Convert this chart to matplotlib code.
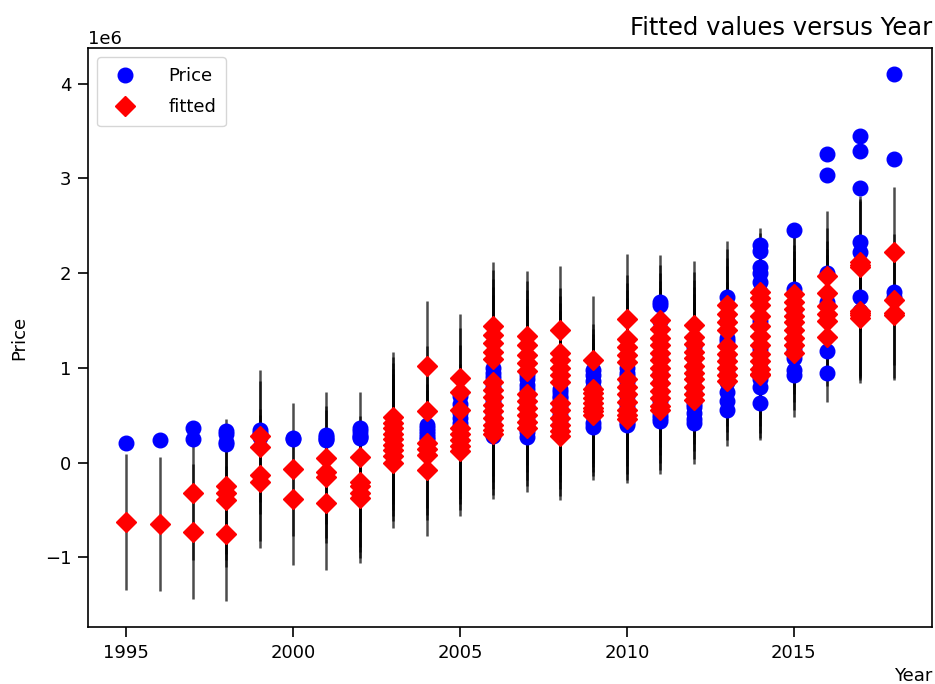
import numpy as np
import matplotlib
matplotlib.use("Agg")
import matplotlib.pyplot as plt

# values, in units of 1e6
years = list(range(1995, 2019))

price_by_year = [
    [0.21],
    [0.24],
    [0.37, 0.25],
    [0.33, 0.30, 0.22, 0.20],
    [0.34, 0.31, 0.29, 0.27],
    [0.26, 0.25],
    [0.29, 0.27, 0.25, 0.24],
    [0.37, 0.33, 0.29, 0.27, 0.26],
    [0.42, 0.38, 0.35, 0.32, 0.30, 0.28, 0.26, 0.25, 0.24],
    [0.40, 0.36, 0.33, 0.30, 0.27, 0.25],
    [0.70, 0.62, 0.52, 0.47, 0.42, 0.38, 0.30, 0.25],
    [1.00, 0.95, 0.90, 0.80, 0.70, 0.65, 0.60, 0.55, 0.50, 0.45, 0.40, 0.35, 0.30, 0.28],
    [0.92, 0.88, 0.82, 0.78, 0.70, 0.60, 0.50, 0.45, 0.40, 0.32, 0.27],
    [0.78, 0.74, 0.70, 0.68, 0.60, 0.55, 0.50, 0.45, 0.40, 0.38, 0.35, 0.30],
    [0.98, 0.92, 0.86, 0.80, 0.60, 0.50, 0.42, 0.38],
    [1.00, 0.95, 0.91, 0.85, 0.80, 0.70, 0.65, 0.60, 0.50, 0.45, 0.42, 0.40],
    [1.70, 1.66, 1.50, 1.30, 1.10, 0.95, 0.85, 0.75, 0.65, 0.55, 0.50, 0.47, 0.44],
    [1.22, 1.10, 1.00, 0.90, 0.80, 0.75, 0.62, 0.59, 0.52, 0.46, 0.42],
    [1.75, 1.50, 1.32, 1.28, 1.10, 0.95, 0.85, 0.74, 0.65, 0.56],
    [2.30, 2.23, 2.07, 2.00, 1.91, 1.80, 1.50, 1.20, 1.00, 0.88, 0.80, 0.63],
    [2.46, 1.83, 1.60, 1.40, 1.30, 1.20, 1.10, 0.98, 0.92],
    [3.26, 3.04, 2.00, 1.70, 1.18, 0.95],
    [3.45, 3.29, 2.90, 2.33, 2.22, 1.75, 1.60],
    [4.10, 3.20, 1.80, 1.75],
]

fitted_by_year = [
    [-0.63],
    [-0.65],
    [-0.32, -0.73],
    [-0.25, -0.32, -0.39, -0.75],
    [0.28, 0.16, -0.13, -0.20],
    [-0.07, -0.38],
    [0.05, -0.10, -0.15, -0.43],
    [0.06, -0.20, -0.25, -0.32, -0.37],
    [0.48, 0.42, 0.36, 0.30, 0.25, 0.19, 0.13, 0.07, 0.00],
    [1.02, 0.54, 0.21, 0.14, 0.08, -0.08],
    [0.89, 0.74, 0.56, 0.36, 0.30, 0.24, 0.18, 0.12],
    [1.44, 1.35, 1.26, 1.17, 1.09, 0.85, 0.77, 0.69, 0.61, 0.54, 0.47, 0.40, 0.34, 0.30],
    [1.34, 1.24, 1.14, 1.05, 0.97, 0.72, 0.65, 0.58, 0.50, 0.43, 0.37],
    [1.40, 1.16, 1.08, 1.00, 0.92, 0.85, 0.63, 0.55, 0.47, 0.40, 0.33, 0.28],
    [1.08, 0.78, 0.73, 0.68, 0.63, 0.58, 0.54, 0.50],
    [1.52, 1.30, 1.22, 1.14, 1.06, 0.88, 0.80, 0.72, 0.64, 0.56, 0.50, 0.46],
    [1.51, 1.41, 1.32, 1.24, 1.16, 1.08, 1.00, 0.92, 0.84, 0.76, 0.68, 0.60, 0.56],
    [1.45, 1.33, 1.25, 1.17, 1.10, 1.02, 0.95, 0.88, 0.80, 0.72, 0.66],
    [1.66, 1.57, 1.48, 1.40, 1.23, 1.15, 1.07, 1.00, 0.92, 0.86],
    [1.80, 1.74, 1.66, 1.55, 1.44, 1.34, 1.24, 1.15, 1.07, 0.99, 0.94, 0.92],
    [1.78, 1.70, 1.62, 1.55, 1.48, 1.40, 1.32, 1.24, 1.16],
    [1.97, 1.79, 1.65, 1.57, 1.50, 1.33],
    [2.12, 2.07, 2.09, 1.60, 1.56, 1.53, 1.58],
    [2.22, 1.72, 1.56, 1.58],
]

# half width of the prediction interval for each year
interval_half = [0.72, 0.71, 0.71, 0.71, 0.70, 0.70, 0.70, 0.69, 0.69, 0.69, 0.68, 0.68,
                 0.68, 0.68, 0.68, 0.68, 0.68, 0.68, 0.68, 0.68, 0.68, 0.69, 0.69, 0.69]

scale = 1e6
x_obs = np.concatenate([[yr] * len(p) for yr, p in zip(years, price_by_year)])
price = np.concatenate(price_by_year) * scale
fitted = np.concatenate(fitted_by_year) * scale
half = np.concatenate([[h] * len(f) for h, f in zip(interval_half, fitted_by_year)]) * scale

fig = plt.figure(figsize=(9.35, 6.84), dpi=100)
ax = fig.add_axes([0.094, 0.083, 0.903, 0.847])

ax.vlines(x_obs, fitted - half, fitted + half, linewidth=1.8, color="k", alpha=0.7, zorder=1)
ax.plot(x_obs, price, "bo", markersize=10.5, label="Price", zorder=2)
ax.plot(x_obs, fitted, "D", color="r", markersize=10, label="fitted", zorder=3)

ax.set_title("Fitted values versus Year", loc="right", fontsize=17.5, pad=9)
ax.set_xlabel("Year", loc="right", fontsize=13)
ax.set_ylabel("Price", fontsize=13, labelpad=12)
ax.tick_params(labelsize=13, length=7, width=1.2, pad=5)
ax.yaxis.get_offset_text().set_fontsize(13)
for sp in ax.spines.values():
    sp.set_linewidth(1.2)
ax.legend(loc="upper left", fontsize=13, numpoints=1, labelspacing=0.75,
          handletextpad=1.4, borderpad=0.55)

fig.savefig("out.png", dpi=100)
